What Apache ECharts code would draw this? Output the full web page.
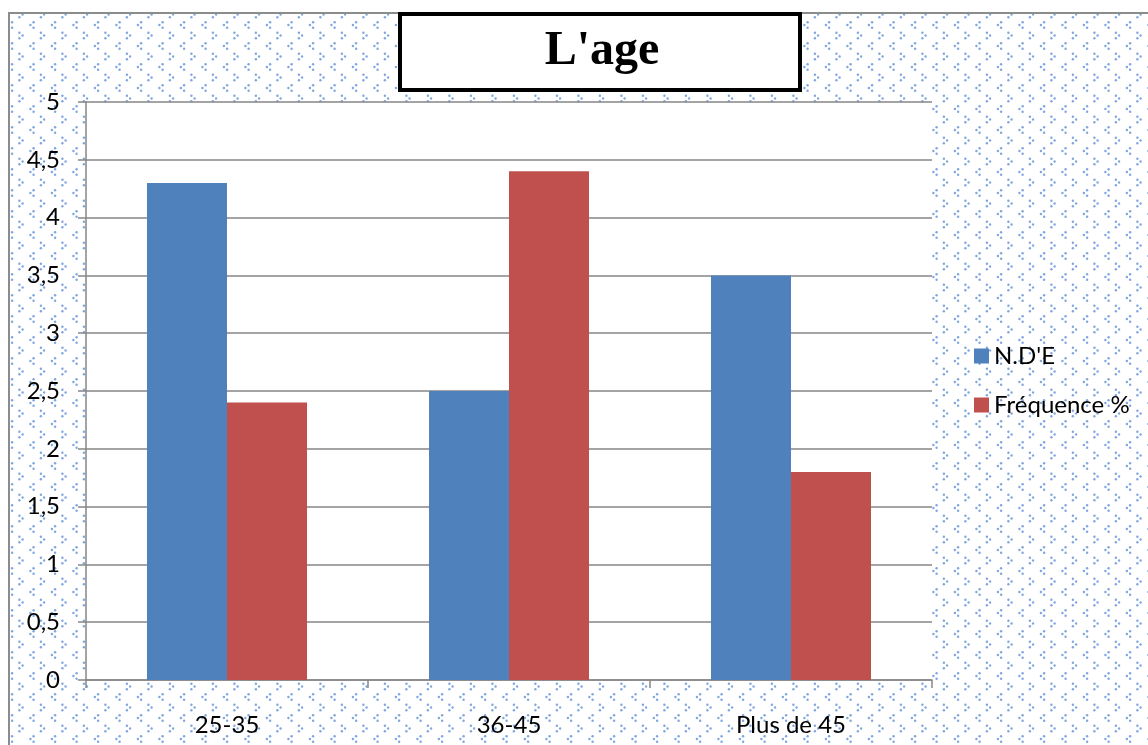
<!DOCTYPE html>
<html>
<head>
<meta charset="utf-8">
<script src="https://cdn.jsdelivr.net/npm/echarts@6/dist/echarts.min.js"></script>
<style>
  html, body { margin: 0; padding: 0; background: #fff; }
  #chart { width: 1148px; height: 745px; }
</style>
</head>
<body>
<div id="chart"></div>
<script>
// Age groups and the two measured series
const categories = ['25-35', '36-45', 'Plus de 45'];
const ndeValues = [4.3, 2.5, 3.5];
const frequenceValues = [2.4, 4.4, 1.8];
const seriesNames = ["N.D'E", 'Fréquence %'];
const titleText = "L'age";

// Repeating tile of small dotted light-blue chevrons used as the chart-area fill
function chevronTile() {
  const w = 43, h = 21;
  const c = document.createElement('canvas');
  c.width = w; c.height = h;
  const ctx = c.getContext('2d');
  ctx.fillStyle = 'rgba(78,132,210,0.72)';
  function dot(x, y) {
    ctx.beginPath();
    ctx.arc(x, y, 1.2, 0, Math.PI * 2);
    ctx.fill();
  }
  function glyph(x, y, dir) {
    for (const dx of [-w, 0, w]) {
      for (const dy of [-h, 0, h]) {
        dot(x + dx - 1.6 * dir, y + dy - 2.7);
        dot(x + dx + 1.6 * dir, y + dy);
        dot(x + dx - 1.6 * dir, y + dy + 2.7);
      }
    }
  }
  glyph(21, 14.5, 1); glyph(42.5, 14.5, 1);
  glyph(10.5, 4, -1); glyph(32, 4, -1);
  return c;
}

const chart = echarts.init(document.getElementById('chart'), null, { renderer: 'canvas' });
const gridColor = '#868686';
const labelFont = 'Lato, "Open Sans", sans-serif';

chart.setOption({
  animation: false,
  backgroundColor: '#fff',
  title: {
    text: titleText,
    left: 597,
    top: 23,
    textAlign: 'center',
    z: 10,
    textStyle: { fontFamily: '"Liberation Serif", serif', fontWeight: 'bold', fontSize: 48, color: '#000' }
  },
  graphic: [
    {
      type: 'rect', z: -10, silent: true,
      shape: { x: 9, y: 13, width: 1200, height: 800 },
      style: { fill: { image: chevronTile(), repeat: 'repeat' }, stroke: '#8c8c8c', lineWidth: 2 }
    },
    {
      type: 'rect', z: 1, silent: true,
      shape: { x: 400, y: 14, width: 400, height: 76 },
      style: { fill: '#fff', stroke: '#000', lineWidth: 4 }
    }
  ],
  legend: {
    orient: 'vertical',
    left: 969,
    top: 339,
    itemWidth: 15,
    itemHeight: 15,
    itemGap: 25,
    icon: 'rect',
    data: seriesNames,
    textStyle: { fontFamily: labelFont, fontSize: 24, color: '#000' }
  },
  grid: {
    left: 86, right: 216, top: 102, bottom: 65,
    show: true, backgroundColor: '#fff', borderWidth: 0
  },
  xAxis: {
    type: 'category',
    data: categories,
    axisLine: { lineStyle: { color: gridColor, width: 1.5 } },
    axisTick: { show: true, length: 8, lineStyle: { color: gridColor, width: 1.5 } },
    axisLabel: { margin: 33, fontFamily: labelFont, fontSize: 24, color: '#000' }
  },
  yAxis: {
    type: 'value',
    min: 0, max: 5, interval: 0.5,
    axisLine: { show: true, lineStyle: { color: gridColor, width: 1.5 } },
    axisTick: { show: true, length: 8, lineStyle: { color: gridColor, width: 1.5 } },
    splitLine: { show: true, lineStyle: { color: gridColor, width: 1.5 } },
    axisLabel: {
      margin: 26, fontFamily: labelFont, fontSize: 24, color: '#000',
      formatter: v => String(v).replace('.', ',')
    }
  },
  series: [
    { name: seriesNames[0], type: 'bar', data: ndeValues, barWidth: 80, barGap: '0%', itemStyle: { color: '#4f81bd' } },
    { name: seriesNames[1], type: 'bar', data: frequenceValues, barWidth: 80, barGap: '0%', itemStyle: { color: '#c0504d' } }
  ]
});
</script>
</body>
</html>
